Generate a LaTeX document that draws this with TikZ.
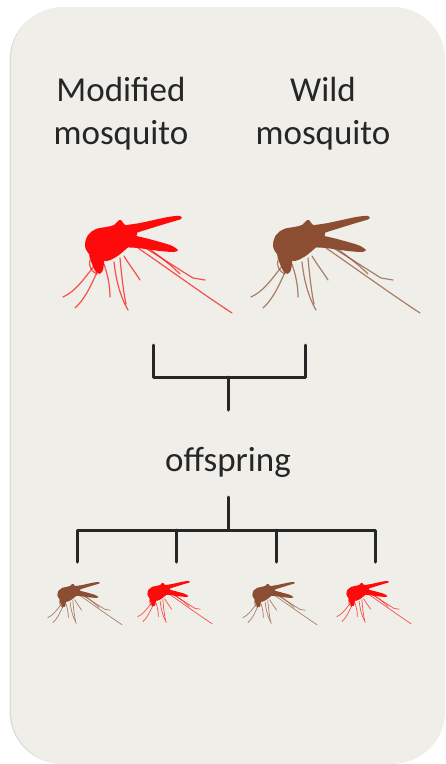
\documentclass[tikz,border=0pt]{standalone}
\usepackage{fontspec}
\setmainfont{Carlito}
\definecolor{panel}{HTML}{EFEEE8}
\definecolor{paneledge}{HTML}{DCDBD6}
\definecolor{ink}{HTML}{262626}
\definecolor{mred}{HTML}{FF0A0A}
\definecolor{mbrown}{HTML}{8C4E32}
\tikzset{
  label/.style={font=\fontsize{35}{42}\selectfont, text=ink, inner sep=0pt, anchor=base},
  bracket/.style={draw=ink, line width=3pt, line cap=round, line join=round},
  pics/mosquito/.style n args={2}{code={
    % legs
    \begin{scope}[draw=#1, line width=#2, line cap=round, opacity=0.7]
      \draw (44,66) .. controls (32,82) and (24,92) .. (13,97);
      \draw (48,70) .. controls (40,88) and (34,100) .. (25,108);
      \draw (54,64) .. controls (58,76) and (60,86) .. (60,97);
      \draw (64,62) .. controls (66,80) and (70,96) .. (78,110);
      \draw (70,58) .. controls (72,80) and (74,95) .. (76,104);
      \draw (74,56) .. controls (80,66) and (85,72) .. (90,80);
      \draw (88,48) .. controls (120,70) and (150,92) .. (182,113);
      \draw (92,46) .. controls (115,60) and (130,70) .. (143,78) -- (155,80);
      \draw (98,48) .. controls (112,58) and (122,66) .. (130,74);
      \draw (40,60) .. controls (38,66) and (42,72) .. (47,74);
    \end{scope}
    % body, wings and proboscis
    \fill[#1] plot[smooth cycle, tension=0.6] coordinates
      {(35,46) (38,35) (46,29) (56,27) (64,25) (68,21) (71,20) (74,24) (80,28) (87,32)
       (84,41) (75,50) (66,57) (57,61) (48,59) (40,55)};
    \fill[#1] plot[smooth cycle, tension=0.5] coordinates
      {(62,28) (90,23) (118,17) (130,16) (131,19) (118,23) (92,31) (72,37)};
    \fill[#1] plot[smooth cycle, tension=0.4] coordinates
      {(68,33) (95,38) (120,45) (128,50) (124,52) (110,51) (88,48) (70,46)};
    \fill[#1] plot[smooth cycle, tension=0.7] coordinates
      {(40,53) (42,64) (47,73) (52,72) (54,63) (53,56)};
  }}
}
\begin{document}
\begin{tikzpicture}[x=1pt, y=-1pt]
  \useasboundingbox (0,0) rectangle (445,764);
  % rounded background panel with a faint shade along its left side
  \fill[paneledge, rounded corners=52pt] (9.5,8) rectangle (444,763.6);
  \fill[panel, rounded corners=52pt] (11,7) rectangle (445,763.6);

  % parent labels
  \node[label] (modA) at (121,101) {Modified};
  \node[label] (modB) at (121,144) {mosquito};
  \node[label] (wildA) at (323,101) {Wild};
  \node[label] (wildB) at (323,144) {mosquito};

  % parent mosquitoes
  \pic at (50,200) {mosquito={mred}{1.2pt}};
  \pic at (238,200) {mosquito={mbrown}{1.2pt}};

  % crossing bracket
  \coordinate (pL) at (153,345);
  \coordinate (pR) at (305,345);
  \coordinate (pJ) at (228,377);
  \node[label] (off) at (228,471) {offspring};
  \coordinate (offTop) at (228,410);
  \draw[bracket] (pL) |- (pJ) -| (pR);
  \draw[bracket] (pJ) -- (offTop);

  % offspring bracket
  \coordinate (offBot) at (228,497);
  \coordinate (kJ) at (228,530);
  \coordinate (k1) at (77,562);
  \coordinate (k2) at (176,562);
  \coordinate (k3) at (276,562);
  \coordinate (k4) at (375,562);
  \draw[bracket] (offBot) -- (kJ);
  \draw[bracket] (k1) |- (kJ) -| (k4);
  \draw[bracket] (k2) -- (k2 |- kJ);
  \draw[bracket] (k3) -- (k3 |- kJ);

  % offspring mosquitoes
  \pic[scale=0.44] at (42,575) {mosquito={mbrown}{0.7pt}};
  \pic[scale=0.44] at (132,574) {mosquito={mred}{0.7pt}};
  \pic[scale=0.44] at (237,575) {mosquito={mbrown}{0.7pt}};
  \pic[scale=0.44] at (331,574) {mosquito={mred}{0.7pt}};
\end{tikzpicture}
\end{document}
